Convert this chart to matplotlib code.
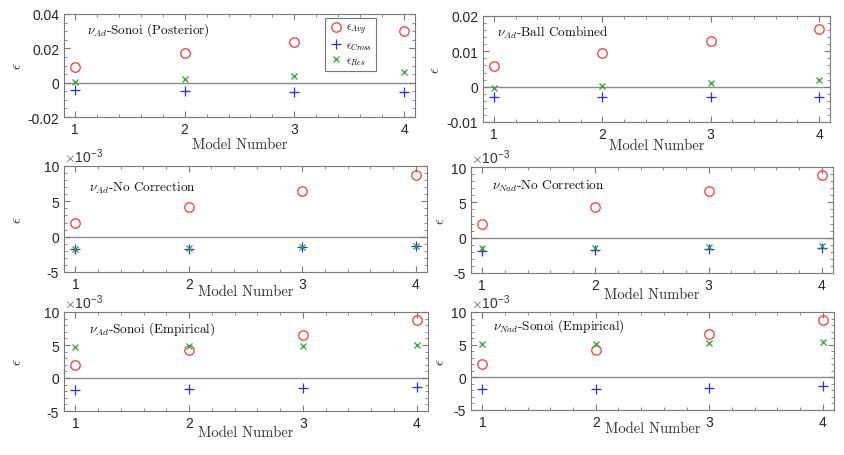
import matplotlib
matplotlib.use("Agg")
import matplotlib.pyplot as plt
from matplotlib.ticker import AutoMinorLocator, FuncFormatter

plt.rcParams['font.family'] = ['Liberation Sans', 'DejaVu Sans']
plt.rcParams['mathtext.fontset'] = 'cm'
plt.rcParams['axes.unicode_minus'] = False

models = [1, 2, 3, 4]

# top row in plain units, rows 2 and 3 in units of 1e-3
avg_post = [0.0090, 0.0171, 0.0238, 0.0301]
cross_post = [-0.0044, -0.0046, -0.0052, -0.0054]
res_post = [0.0006, 0.0019, 0.0040, 0.0065]

avg_ball = [0.00575, 0.0095, 0.0130, 0.0164]
cross_ball = [-0.0028, -0.0028, -0.0028, -0.0028]
res_ball = [-0.0003, 0.0003, 0.0009, 0.0018]

avg_ad_nc = [2.0, 4.25, 6.5, 8.75]
cross_ad_nc = [-1.78, -1.70, -1.52, -1.38]
res_ad_nc = [-1.70, -1.64, -1.48, -1.34]

avg_nad_nc = [2.0, 4.28, 6.54, 8.8]
cross_nad_nc = [-1.9, -1.78, -1.6, -1.45]
res_nad_nc = [-1.5, -1.4, -1.28, -1.15]

avg_ad_emp = [2.0, 4.2, 6.5, 8.8]
cross_ad_emp = [-1.8, -1.67, -1.5, -1.36]
res_ad_emp = [4.75, 4.85, 4.85, 5.0]

avg_nad_emp = [2.1, 4.2, 6.6, 8.8]
cross_nad_emp = [-1.84, -1.73, -1.58, -1.38]
res_nad_emp = [5.1, 5.15, 5.2, 5.36]

W, H = 845, 456
fig = plt.figure(figsize=(W / 100, H / 100), dpi=100)

def make_ax(l, r, t, b):
    return fig.add_axes([l / W, 1 - b / H, (r - l) / W, (b - t) / H])

red = '#f03c3c'
blue = '#2b2bff'
green = '#2ca02c'
edge = '#7a7a7a'

# (axes box l, r, t, b), title anchor (x, y), ylabel x, xlabel centre y  -- all in pixels
panels = [
    ((64, 415, 15, 118), (87, 30), 17, 145, avg_post, cross_post, res_post,
     (-0.02, 0.04), [-0.02, 0, 0.02, 0.04], r'$\nu_{Ad}$-Sonoi (Posterior)', False),
    ((483, 830, 17, 123), (497, 33), 435, 146, avg_ball, cross_ball, res_ball,
     (-0.01, 0.02), [-0.01, 0, 0.01, 0.02], r'$\nu_{Ad}$-Ball Combined', False),
    ((64, 427, 167, 273), (89, 188), 17, 292, avg_ad_nc, cross_ad_nc, res_ad_nc,
     (-5, 10), [-5, 0, 5, 10], r'$\nu_{Ad}$-No Correction', True),
    ((471, 833, 168, 274), (492, 186), 440, 295, avg_nad_nc, cross_nad_nc, res_nad_nc,
     (-5, 10), [-5, 0, 5, 10], r'$\nu_{Nad}$-No Correction', True),
    ((64, 428, 313, 412), (89, 329), 17, 433, avg_ad_emp, cross_ad_emp, res_ad_emp,
     (-5, 10), [-5, 0, 5, 10], r'$\nu_{Ad}$-Sonoi (Empirical)', True),
    ((471, 834, 313, 411), (493, 326), 440, 429, avg_nad_emp, cross_nad_emp, res_nad_emp,
     (-5, 10), [-5, 0, 5, 10], r'$\nu_{Nad}$-Sonoi (Empirical)', True),
]

for i, (pos, tpos, ylx, xly, avg, cross, res, ylim, yt, title, scaled) in enumerate(panels):
    l, r, t, b = pos
    ax = make_ax(*pos)
    ax.axhline(0, color='#8c8c8c', lw=1.0, zorder=1)
    ax.plot(models, avg, 'o', ms=6.8, mfc='none', mec=red, mew=0.9, label=r'$\epsilon_{Avg}$')
    ax.plot(models, cross, '+', ms=7.5, mec=blue, mew=0.9, label=r'$\epsilon_{Cross}$')
    ax.plot(models, res, 'x', ms=5, mec=green, mew=0.9, label=r'$\epsilon_{Res}$')
    ax.set_xlim(0.9, 4.1)
    ax.set_ylim(*ylim)
    ax.set_xticks(models)
    ax.set_yticks(yt)
    if scaled:
        ax.yaxis.set_major_formatter(FuncFormatter(lambda y, _: '%d' % y))
        ax.text(0.0, 1.01, r'$\times$10$^{\mathregular{-3}}$', transform=ax.transAxes,
                fontsize=10, color='#333333', va='bottom', ha='left')
    else:
        ax.yaxis.set_major_formatter(FuncFormatter(lambda y, _: '0' if y == 0 else '%g' % y))
    ax.xaxis.set_minor_locator(AutoMinorLocator())
    ax.yaxis.set_minor_locator(AutoMinorLocator())
    ax.tick_params(which='both', direction='in', top=True, right=True, colors=edge,
                   labelcolor='#262626', labelsize=10)
    ax.tick_params(which='major', length=4)
    ax.tick_params(which='minor', length=2)
    for s in ax.spines.values():
        s.set_color(edge)
        s.set_linewidth(0.8)
    ax.set_xlabel('Model Number', fontfamily='cmr10', fontsize=10.5, color='#333333')
    ax.xaxis.set_label_coords(0.5, -(xly - b) / (b - t))
    ax.xaxis.label.set_va('center')
    ax.set_ylabel(r'$\epsilon$', fontsize=11, color='#333333')
    ax.yaxis.set_label_coords((ylx - l) / (r - l), 0.5)
    ax.yaxis.label.set_va('center')
    ax.text((tpos[0] - l) / (r - l), (b - tpos[1]) / (b - t), title, transform=ax.transAxes,
            fontfamily='cmr10', fontsize=9.5, color='#111111', va='center', ha='left')
    if i == 0:
        leg = ax.legend(loc='upper left', bbox_to_anchor=((325 - l) / (r - l), (b - 19) / (b - t)),
                        fontsize=8, handletextpad=0.3, borderpad=0.35, labelspacing=0.3,
                        fancybox=False, edgecolor='#555555', handlelength=1.2,
                        borderaxespad=0)
        leg.get_frame().set_linewidth(0.8)

fig.savefig('out.png', dpi=100)
